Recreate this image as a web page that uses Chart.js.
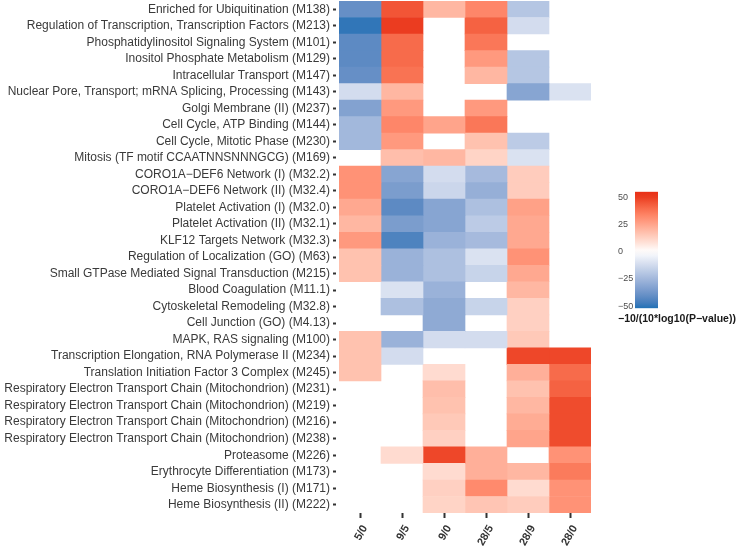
<!DOCTYPE html>
<html lang="en">
<head>
<meta charset="UTF-8">
<title>Module enrichment heatmap</title>
<script src="https://cdn.jsdelivr.net/npm/chart.js"></script>
<style>
  body { margin: 0; background: #fff; }
  .wrap { position: relative; width: 740px; height: 547px; overflow: hidden; }
  #heat { position: absolute; left: 0; top: 0; }
  #bar { position: absolute; left: 600px; top: 180px; }
  .legend-title {
    position: absolute; left: 618px; top: 312px;
    font: bold 10.5px "Liberation Sans", Arial, sans-serif;
    color: #1a1a1a; white-space: nowrap;
  }
</style>
</head>
<body>
<div class="wrap">
  <canvas id="heat" width="740" height="547"></canvas>
  <canvas id="bar" width="140" height="140"></canvas>
  <div class="legend-title">−10/(10*log10(P−value))</div>
</div>

<script>
const modules = [
  'Enriched for Ubiquitination (M138)',
  'Regulation of Transcription, Transcription Factors (M213)',
  'Phosphatidylinositol Signaling System (M101)',
  'Inositol Phosphate Metabolism (M129)',
  'Intracellular Transport (M147)',
  'Nuclear Pore, Transport; mRNA Splicing, Processing (M143)',
  'Golgi Membrane (II) (M237)',
  'Cell Cycle, ATP Binding (M144)',
  'Cell Cycle, Mitotic Phase (M230)',
  'Mitosis (TF motif CCAATNNSNNNGCG) (M169)',
  'CORO1A−DEF6 Network (I) (M32.2)',
  'CORO1A−DEF6 Network (II) (M32.4)',
  'Platelet Activation (I) (M32.0)',
  'Platelet Activation (II) (M32.1)',
  'KLF12 Targets Network (M32.3)',
  'Regulation of Localization (GO) (M63)',
  'Small GTPase Mediated Signal Transduction (M215)',
  'Blood Coagulation (M11.1)',
  'Cytoskeletal Remodeling (M32.8)',
  'Cell Junction (GO) (M4.13)',
  'MAPK, RAS signaling (M100)',
  'Transcription Elongation, RNA Polymerase II (M234)',
  'Translation Initiation Factor 3 Complex (M245)',
  'Respiratory Electron Transport Chain (Mitochondrion) (M231)',
  'Respiratory Electron Transport Chain (Mitochondrion) (M219)',
  'Respiratory Electron Transport Chain (Mitochondrion) (M216)',
  'Respiratory Electron Transport Chain (Mitochondrion) (M238)',
  'Proteasome (M226)',
  'Erythrocyte Differentiation (M173)',
  'Heme Biosynthesis (I) (M171)',
  'Heme Biosynthesis (II) (M222)'
];

const comparisons = ['5/0', '9/5', '9/0', '28/5', '28/9', '28/0'];

// -10/(10*log10(P)) per module, one array per comparison (null = not significant)
const v5_0  = [-40, -50, -42, -42, -40, -12, -33, -25, -25, null, 30, 30, 24, 20, 28, 17, 17, null, null, null, 17, 17, 17, null, null, null, null, null, null, null, null];
const v9_5  = [45, 50, 40, 40, 38, 20, 28, 33, 28, 18, -32, -35, -42, -35, -45, -27, -27, -10, -22, null, -27, -12, null, null, null, null, null, 10, null, null, null];
const v9_0  = [20, null, null, null, null, null, null, 25, null, 20, -12, -14, -32, -32, -27, -22, -22, -27, -30, -30, -12, null, 10, 18, 17, 15, 13, 48, 10, 13, 12];
const v28_5 = [33, 42, 37, 28, 20, null, 28, 37, 17, 12, -24, -28, -22, -18, -24, -10, -15, null, -15, null, -12, null, null, null, null, null, null, 22, 22, 32, 16];
const v28_9 = [-20, -12, null, -20, -20, -32, null, null, -18, -10, 14, 14, 26, 24, 24, 30, 24, 20, 13, 13, 15, 48, 22, 17, 20, 23, 25, null, 20, 10, 14];
const v28_0 = [null, null, null, null, null, -10, null, null, null, null, null, null, null, null, null, null, null, null, null, null, null, 48, 40, 42, 47, 47, 47, 30, 36, 30, 30];

const columns = [v5_0, v9_5, v9_0, v28_5, v28_9, v28_0];

const scaleMin = -52, scaleMax = 55;
const legendTicks = [-50, -25, 0, 25, 50];

// colour scale: blue - white - red, mixed in Lab like ggplot's gradient2
const LOW = [33, 113, 181], MID = [255, 255, 255], HIGH = [232, 48, 22];
const WP = [0.95047, 1, 1.08883];

function lin(c) { c /= 255; return c <= 0.04045 ? c / 12.92 : Math.pow((c + 0.055) / 1.055, 2.4); }
function unlin(c) {
  c = c <= 0.0031308 ? 12.92 * c : 1.055 * Math.pow(c, 1 / 2.4) - 0.055;
  return Math.round(Math.max(0, Math.min(1, c)) * 255);
}
function toLab(rgb) {
  const [r, g, b] = rgb.map(lin);
  const xyz = [0.4124 * r + 0.3576 * g + 0.1805 * b, 0.2126 * r + 0.7152 * g + 0.0722 * b, 0.0193 * r + 0.1192 * g + 0.9505 * b];
  const f = xyz.map((t, i) => { t /= WP[i]; return t > 0.008856 ? Math.cbrt(t) : 7.787 * t + 16 / 116; });
  return [116 * f[1] - 16, 500 * (f[0] - f[1]), 200 * (f[1] - f[2])];
}
function fromLab([L, a, b]) {
  const fy = (L + 16) / 116, fx = fy + a / 500, fz = fy - b / 200;
  const [x, y, z] = [fx, fy, fz].map((f, i) => {
    const t = f * f * f > 0.008856 ? f * f * f : (f - 16 / 116) / 7.787;
    return t * WP[i];
  });
  const r = 3.2406 * x - 1.5372 * y - 0.4986 * z;
  const g = -0.9689 * x + 1.8758 * y + 0.0415 * z;
  const bb = 0.0557 * x - 0.2040 * y + 1.0570 * z;
  return 'rgb(' + [r, g, bb].map(unlin).join(',') + ')';
}
const lowLab = toLab(LOW), midLab = toLab(MID), highLab = toLab(HIGH);

function colour(v) {
  const t = Math.min(1, Math.abs(v) / 52);
  const end = v > 0 ? highLab : lowLab;
  return fromLab(midLab.map((m, i) => m + t * (end[i] - m)));
}

const labelFont = { family: '"Liberation Sans", Arial, sans-serif', size: 12 };

new Chart(document.getElementById('heat'), {
  type: 'bar',
  data: {
    labels: modules,
    datasets: columns.map((vals, i) => ({
      label: comparisons[i],
      data: vals.map(() => 1),
      backgroundColor: vals.map(v => v === null ? 'rgba(0,0,0,0)' : colour(v)),
      borderWidth: 0,
      barPercentage: 1,
      categoryPercentage: 1
    }))
  },
  options: {
    indexAxis: 'y',
    responsive: false,
    animation: false,
    layout: { padding: { top: 1, right: 149, left: 0, bottom: 0 } },
    plugins: { legend: { display: false }, tooltip: { enabled: false } },
    scales: {
      x: { stacked: true, min: 0, max: 6, display: false },
      x2: {
        type: 'category',
        labels: comparisons,
        position: 'bottom',
        offset: true,
        grid: { offset: false, drawOnChartArea: false, tickLength: 5, tickWidth: 2, tickColor: '#333' },
        border: { display: false },
        ticks: {
          minRotation: 60, maxRotation: 60, labelOffset: 5, padding: 5,
          color: '#333',
          font: { family: '"Liberation Sans", Arial, sans-serif', size: 11, weight: 'bold' }
        },
        afterFit: s => { s.height = 34; s.paddingLeft = 0; s.paddingRight = 0; }
      },
      y: {
        stacked: true,
        grid: { offset: false, drawOnChartArea: false, tickLength: 6, tickWidth: 2, tickColor: '#333', tickBorderDash: [3, 3] },
        border: { display: false },
        ticks: { padding: 3, color: '#3a3a3a', font: labelFont, autoSkip: false },
        afterFit: s => { s.width = 339; s.paddingTop = 0; s.paddingBottom = 0; }
      }
    }
  }
});

// colour bar legend
new Chart(document.getElementById('bar'), {
  type: 'bar',
  data: {
    labels: [''],
    datasets: [{
      data: [[scaleMin, scaleMax]],
      borderWidth: 0,
      barPercentage: 1,
      categoryPercentage: 1,
      backgroundColor: ctx => {
        const chart = ctx.chart;
        if (!chart.chartArea) return 'rgba(0,0,0,0)';
        const y = chart.scales.y;
        const g = chart.ctx.createLinearGradient(0, y.getPixelForValue(scaleMax), 0, y.getPixelForValue(scaleMin));
        for (let k = 0; k <= 20; k++) {
          const v = scaleMax - k * (scaleMax - scaleMin) / 20;
          g.addColorStop(k / 20, colour(v));
        }
        return g;
      }
    }]
  },
  options: {
    responsive: false,
    animation: false,
    layout: { padding: { top: 11.7, bottom: 11.7, left: 18, right: 82 } },
    plugins: { legend: { display: false }, tooltip: { enabled: false } },
    scales: {
      x: { display: false },
      y: {
        min: scaleMin, max: scaleMax,
        afterBuildTicks: s => { s.ticks = legendTicks.map(v => ({ value: v })); },
        afterFit: s => { s.width = 17; s.paddingTop = 0; s.paddingBottom = 0; },
        border: { display: false },
        grid: { drawTicks: false, color: 'rgba(255,255,255,0.85)', borderDash: [4, 15], lineWidth: 1 },
        ticks: {
          crossAlign: 'far',
          color: '#4d4d4d',
          font: { family: '"Liberation Sans", Arial, sans-serif', size: 9 },
          callback: v => v < 0 ? '−' + Math.abs(v) : String(v)
        }
      }
    }
  }
});
</script>
</body>
</html>
